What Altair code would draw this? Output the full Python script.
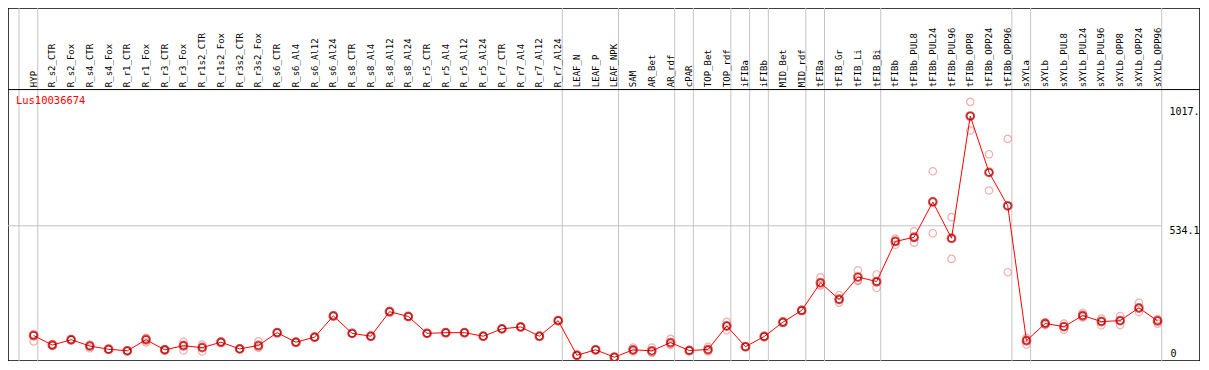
import altair as alt
import pandas as pd

gene = "Lus10036674"

categories = [
    "HYP", "R_s2_CTR", "R_s2_Fox", "R_s4_CTR", "R_s4_Fox", "R_r1_CTR", "R_r1_Fox",
    "R_r3_CTR", "R_r3_Fox", "R_r1s2_CTR", "R_r1s2_Fox", "R_r3s2_CTR", "R_r3s2_Fox",
    "R_s6_CTR", "R_s6_Al4", "R_s6_Al12", "R_s6_Al24", "R_s8_CTR", "R_s8_Al4",
    "R_s8_Al12", "R_s8_Al24", "R_r5_CTR", "R_r5_Al4", "R_r5_Al12", "R_r5_Al24",
    "R_r7_CTR", "R_r7_Al4", "R_r7_Al12", "R_r7_Al24", "LEAF_N", "LEAF_P", "LEAF_NPK",
    "SAM", "AR_Bet", "AR_rdf", "cPAR", "TOP_Bet", "TOP_rdf", "iFIBa", "iFIBb",
    "MID_Bet", "MID_rdf", "tFIBa", "tFIB_Gr", "tFIB_Li", "tFIB_Bi", "tFIBb",
    "tFIBb_PUL8", "tFIBb_PUL24", "tFIBb_PUL96", "tFIBb_OPP8", "tFIBb_OPP24",
    "tFIBb_OPP96", "sXYLa", "sXYLb", "sXYLb_PUL8", "sXYLb_PUL24", "sXYLb_PUL96",
    "sXYLb_OPP8", "sXYLb_OPP24", "sXYLb_OPP96",
]

means = [
    89.6, 51, 72.6, 47.1, 34, 27.8, 72.6, 31.7, 48.3, 40.6, 62.6, 35.5, 49.5,
    101.2, 62.6, 83.1, 169.2, 98.5, 86.9, 186.2, 166.9, 98.5, 101.2, 101.2, 86.9,
    116.7, 124.4, 86.9, 149.9, 9.7, 31.7, 1.9, 31.7, 27.8, 61, 29, 32.8, 128.3,
    44.4, 85.8, 143.7, 191.3, 303.3, 236.5, 326.5, 308.3, 470.6, 487.6, 630.6,
    483.8, 978.4, 750.4, 615.1, 68.8, 138.3, 125.6, 170.8, 146.1, 149.9, 201.7,
    148.8,
]

rep_a = [
    96, 55, 74, 52, 35, 29, 80, 34, 64, 53, 65, 37, 66,
    103, 64, 85, 172, 100, 88, 189, 169, 100, 103, 102, 88,
    118, 126, 88, 152, 10, 33, 2, 41, 41, 76, 30, 44, 145,
    46, 88, 147, 194, 325, 253, 354, 337, 482, 512, 755,
    569, 1036, 824, 886, 80, 132, 138, 182, 158, 169, 222,
    156,
]
rep_b = [
    66, 47, 71, 38, 33, 26, 62, 28, 29, 25, 60, 34, 40,
    99, 61, 81, 166, 97, 85, 183, 165, 97, 99, 100, 86,
    115, 123, 86, 148, 9, 30, 1.5, 25, 22, 51, 28, 25, 111,
    43, 84, 141, 189, 292, 223, 315, 283, 457, 466, 504,
    400, 920, 677, 346, 53, 142, 113, 167, 131, 132, 185,
    138,
]
rep_c = [
    92, 51, 73, 51, 34, 28, 76, 33, 52, 44, 63, 36, 43,
    102, 63, 83, 170, 99, 88, 187, 167, 99, 102, 101, 87,
    117, 124, 87, 150, 10, 32, 2.2, 29, 20, 56, 29, 29, 129,
    44, 85, 143, 191, 293, 234, 311, 305, 473, 485, 633,
    482, 979, 750, 613, 73, 141, 126, 163, 149, 149, 198,
    152,
]

group_sizes = [1, 28, 3, 3, 1, 2, 1, 1, 2, 1, 3, 7, 1, 7]

tick_values = [0, 534.1, 1017.1]
tick_labels = ["0", "534.1", "1017."]

# ---------------------------------------------------------------- layout
W, H = 1192, 353
sx, sy = W / 1209, H / 370
FONT = "DejaVu Sans Mono"

xs = alt.Scale(domain=[-26 / 19, (1209 - 26) / 19], nice=False, zero=False)
ys = alt.Scale(domain=[-3.5 * 3.864, 366.5 * 3.864], nice=False, zero=False)

df = pd.DataFrame({"idx": list(range(len(categories))), "cat": categories, "mean": means})

reps = pd.DataFrame({
    "idx": list(range(len(categories))) * 3,
    "val": rep_a + rep_b + rep_c,
})

bounds = []
cum = -1
bounds.append(cum + 0.22)
for g in group_sizes:
    cum += g
    bounds.append(cum + 0.22)
bdf = pd.DataFrame({"b": bounds})

ticks = pd.DataFrame({"val": tick_values, "lab": tick_labels})
one = pd.DataFrame({"k": [0]})

vlines = alt.Chart(bdf).mark_rule(color="#c4c4c4", strokeWidth=1).encode(
    x=alt.X("b:Q", scale=xs, axis=None),
    y=alt.value(0),
    y2=alt.value(H),
)

hgrid = alt.Chart(ticks[ticks["val"] == tick_values[1]]).mark_rule(
    color="#c4c4c4", strokeWidth=1
).encode(
    y=alt.Y("val:Q", scale=ys, axis=None),
    x=alt.value(0),
    x2=alt.value(1170 * sx),
)

header_sep = alt.Chart(one).mark_rule(color="black", strokeWidth=1).encode(
    y=alt.value(85.5 * sy),
    x=alt.value(0),
    x2=alt.value(W),
)

header = alt.Chart(df).mark_text(
    angle=270, align="left", baseline="middle", font=FONT, fontSize=9, color="black"
).encode(
    x=alt.X("idx:Q", scale=xs, axis=None),
    y=alt.value(83 * sy),
    text="cat:N",
)

title = alt.Chart(one).mark_text(
    text=gene, align="left", baseline="alphabetic", font=FONT, fontSize=10.5, color="#ff0000"
).encode(x=alt.value(8 * sx), y=alt.value(101 * sy))

tick_top = alt.Chart(ticks[ticks["val"] > 0]).mark_text(
    align="left", baseline="top", font=FONT, fontSize=10, color="black", dy=0
).encode(
    x=alt.value(1178 * sx),
    y=alt.Y("val:Q", scale=ys, axis=None),
    text="lab:N",
)
tick_zero = alt.Chart(ticks[ticks["val"] == 0]).mark_text(
    align="left", baseline="bottom", font=FONT, fontSize=10, color="black", dy=1
).encode(
    x=alt.value(1179 * sx),
    y=alt.Y("val:Q", scale=ys, axis=None),
    text="lab:N",
)

rep_pts = alt.Chart(reps).mark_point(
    shape="circle", filled=False, color="#f08c8c", size=55, strokeWidth=1.2
).encode(
    x=alt.X("idx:Q", scale=xs, axis=None),
    y=alt.Y("val:Q", scale=ys, axis=None),
)

line = alt.Chart(df).mark_line(color="#ff0000", strokeWidth=1).encode(
    x=alt.X("idx:Q", scale=xs, axis=None),
    y=alt.Y("mean:Q", scale=ys, axis=None),
)

mean_red = alt.Chart(df).mark_point(
    shape="circle", filled=False, color="#ff0000", size=64, strokeWidth=1.8
).encode(
    x=alt.X("idx:Q", scale=xs, axis=None),
    y=alt.Y("mean:Q", scale=ys, axis=None),
)
mean_blk = alt.Chart(df).mark_point(
    shape="circle", filled=False, color="#000000", size=44, strokeWidth=0.7
).encode(
    x=alt.X("idx:Q", scale=xs, axis=None),
    y=alt.Y("mean:Q", scale=ys, axis=None),
)

chart = alt.layer(
    vlines, hgrid, header_sep, header, title, tick_top, tick_zero,
    rep_pts, line, mean_red, mean_blk,
).properties(
    width=W, height=H, padding=0, autosize=alt.AutoSizeParams(type="none"),
    background="white",
).configure_view(stroke="black", strokeWidth=1.5)

chart.save("out.html", embed_options={"renderer": "svg", "actions": False})
